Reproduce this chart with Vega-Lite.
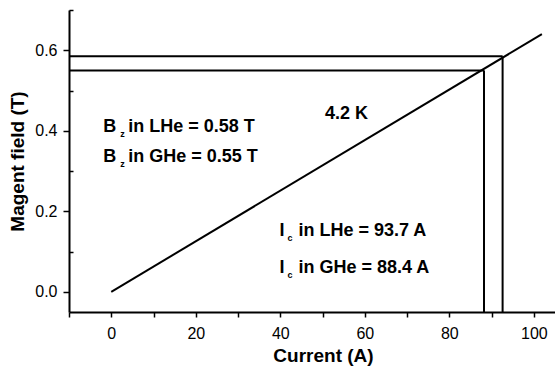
{
  "$schema": "https://vega.github.io/schema/vega-lite/v6.json",
  "width": 486,
  "height": 302,
  "autosize": {"type": "none"},
  "padding": {"left": 69, "top": 10, "right": 0, "bottom": 56},
  "background": "white",
  "config": {
    "view": {"stroke": null},
    "axis": {
      "grid": false,
      "domainColor": "black",
      "domainWidth": 2,
      "tickColor": "black",
      "tickWidth": 1.5,
      "labelColor": "black",
      "titleColor": "black",
      "labelFont": "Liberation Sans",
      "titleFont": "Liberation Sans",
      "labelFontSize": 16,
      "titleFontSize": 19,
      "titleFontWeight": "bold"
    }
  },
  "datasets": {
    "segments": [
      {"name": "current", "x1": 0, "y1": 0, "x2": 101.9, "y2": 0.64},
      {"name": "LHe field", "x1": -10, "y1": 0.585, "x2": 92.6, "y2": 0.585},
      {"name": "GHe field", "x1": -10, "y1": 0.55, "x2": 88.2, "y2": 0.55},
      {"name": "LHe current", "x1": 92.6, "y1": -0.05, "x2": 92.6, "y2": 0.585},
      {"name": "GHe current", "x1": 88.2, "y1": -0.05, "x2": 88.2, "y2": 0.55}
    ],
    "notes": [
      {"x": -1.9, "y": 0.398, "head": "B", "sub": "z", "rest": "in LHe = 0.58 T", "kind": "B"},
      {"x": -1.9, "y": 0.323, "head": "B", "sub": "z", "rest": "in GHe = 0.55 T", "kind": "B"},
      {"x": 39.8, "y": 0.139, "head": "I", "sub": "c", "rest": "in LHe = 93.7 A", "kind": "I"},
      {"x": 39.8, "y": 0.048, "head": "I", "sub": "c", "rest": "in GHe = 88.4 A", "kind": "I"}
    ],
    "temp": [
      {"x": 50.6, "y": 0.4285, "text": "4.2 K"}
    ]
  },
  "layer": [
    {
      "data": {"name": "segments"},
      "mark": {"type": "rule", "stroke": "black", "strokeWidth": 2},
      "encoding": {
        "x": {
          "field": "x1",
          "type": "quantitative",
          "title": "Current (A)",
          "scale": {"domain": [-10, 105], "nice": false, "zero": false},
          "axis": {
            "values": [-10, 0, 10, 20, 30, 40, 50, 60, 70, 80, 90, 100],
            "labelExpr": "datum.value % 20 == 0 ? datum.label : ''",
            "tickSize": 5,
            "labelPadding": 8,
            "titlePadding": 5,
            "titleX": 254
          }
        },
        "x2": {"field": "x2"},
        "y": {
          "field": "y1",
          "type": "quantitative",
          "title": "Magent field (T)",
          "scale": {"domain": [-0.05, 0.7], "nice": false, "zero": false},
          "axis": {
            "values": [0, 0.1, 0.2, 0.3, 0.4, 0.5, 0.6, 0.7],
            "format": ".1f",
            "labelExpr": "abs(round(datum.value * 10)) % 2 == 0 ? datum.label : ''",
            "tickSize": {"condition": {"test": "abs(round(datum.value * 10)) % 2 == 0", "value": 6}, "value": -4},
            "labelPadding": 6,
            "titlePadding": 7
          }
        },
        "y2": {"field": "y2"}
      }
    },
    {
      "data": {"name": "notes"},
      "mark": {"type": "text", "font": "Liberation Sans", "fontWeight": "bold", "fontSize": 18, "align": "left", "baseline": "alphabetic", "color": "black"},
      "encoding": {
        "x": {"field": "x", "type": "quantitative"},
        "y": {"field": "y", "type": "quantitative"},
        "text": {"field": "head"}
      }
    },
    {
      "data": {"name": "notes"},
      "transform": [{"filter": "datum.kind == 'B'"}],
      "mark": {"type": "text", "font": "Liberation Sans", "fontWeight": "bold", "fontSize": 9, "align": "left", "baseline": "alphabetic", "dx": 17, "dy": 5, "color": "black"},
      "encoding": {
        "x": {"field": "x", "type": "quantitative"},
        "y": {"field": "y", "type": "quantitative"},
        "text": {"field": "sub"}
      }
    },
    {
      "data": {"name": "notes"},
      "transform": [{"filter": "datum.kind == 'I'"}],
      "mark": {"type": "text", "font": "Liberation Sans", "fontWeight": "bold", "fontSize": 9, "align": "left", "baseline": "alphabetic", "dx": 8, "dy": 5, "color": "black"},
      "encoding": {
        "x": {"field": "x", "type": "quantitative"},
        "y": {"field": "y", "type": "quantitative"},
        "text": {"field": "sub"}
      }
    },
    {
      "data": {"name": "notes"},
      "transform": [{"filter": "datum.kind == 'B'"}],
      "mark": {"type": "text", "font": "Liberation Sans", "fontWeight": "bold", "fontSize": 18, "align": "left", "baseline": "alphabetic", "dx": 25, "color": "black"},
      "encoding": {
        "x": {"field": "x", "type": "quantitative"},
        "y": {"field": "y", "type": "quantitative"},
        "text": {"field": "rest"}
      }
    },
    {
      "data": {"name": "notes"},
      "transform": [{"filter": "datum.kind == 'I'"}],
      "mark": {"type": "text", "font": "Liberation Sans", "fontWeight": "bold", "fontSize": 18, "align": "left", "baseline": "alphabetic", "dx": 19, "color": "black"},
      "encoding": {
        "x": {"field": "x", "type": "quantitative"},
        "y": {"field": "y", "type": "quantitative"},
        "text": {"field": "rest"}
      }
    },
    {
      "data": {"name": "temp"},
      "mark": {"type": "text", "font": "Liberation Sans", "fontWeight": "bold", "fontSize": 18, "align": "left", "baseline": "alphabetic", "color": "black"},
      "encoding": {
        "x": {"field": "x", "type": "quantitative"},
        "y": {"field": "y", "type": "quantitative"},
        "text": {"field": "text"}
      }
    }
  ]
}
